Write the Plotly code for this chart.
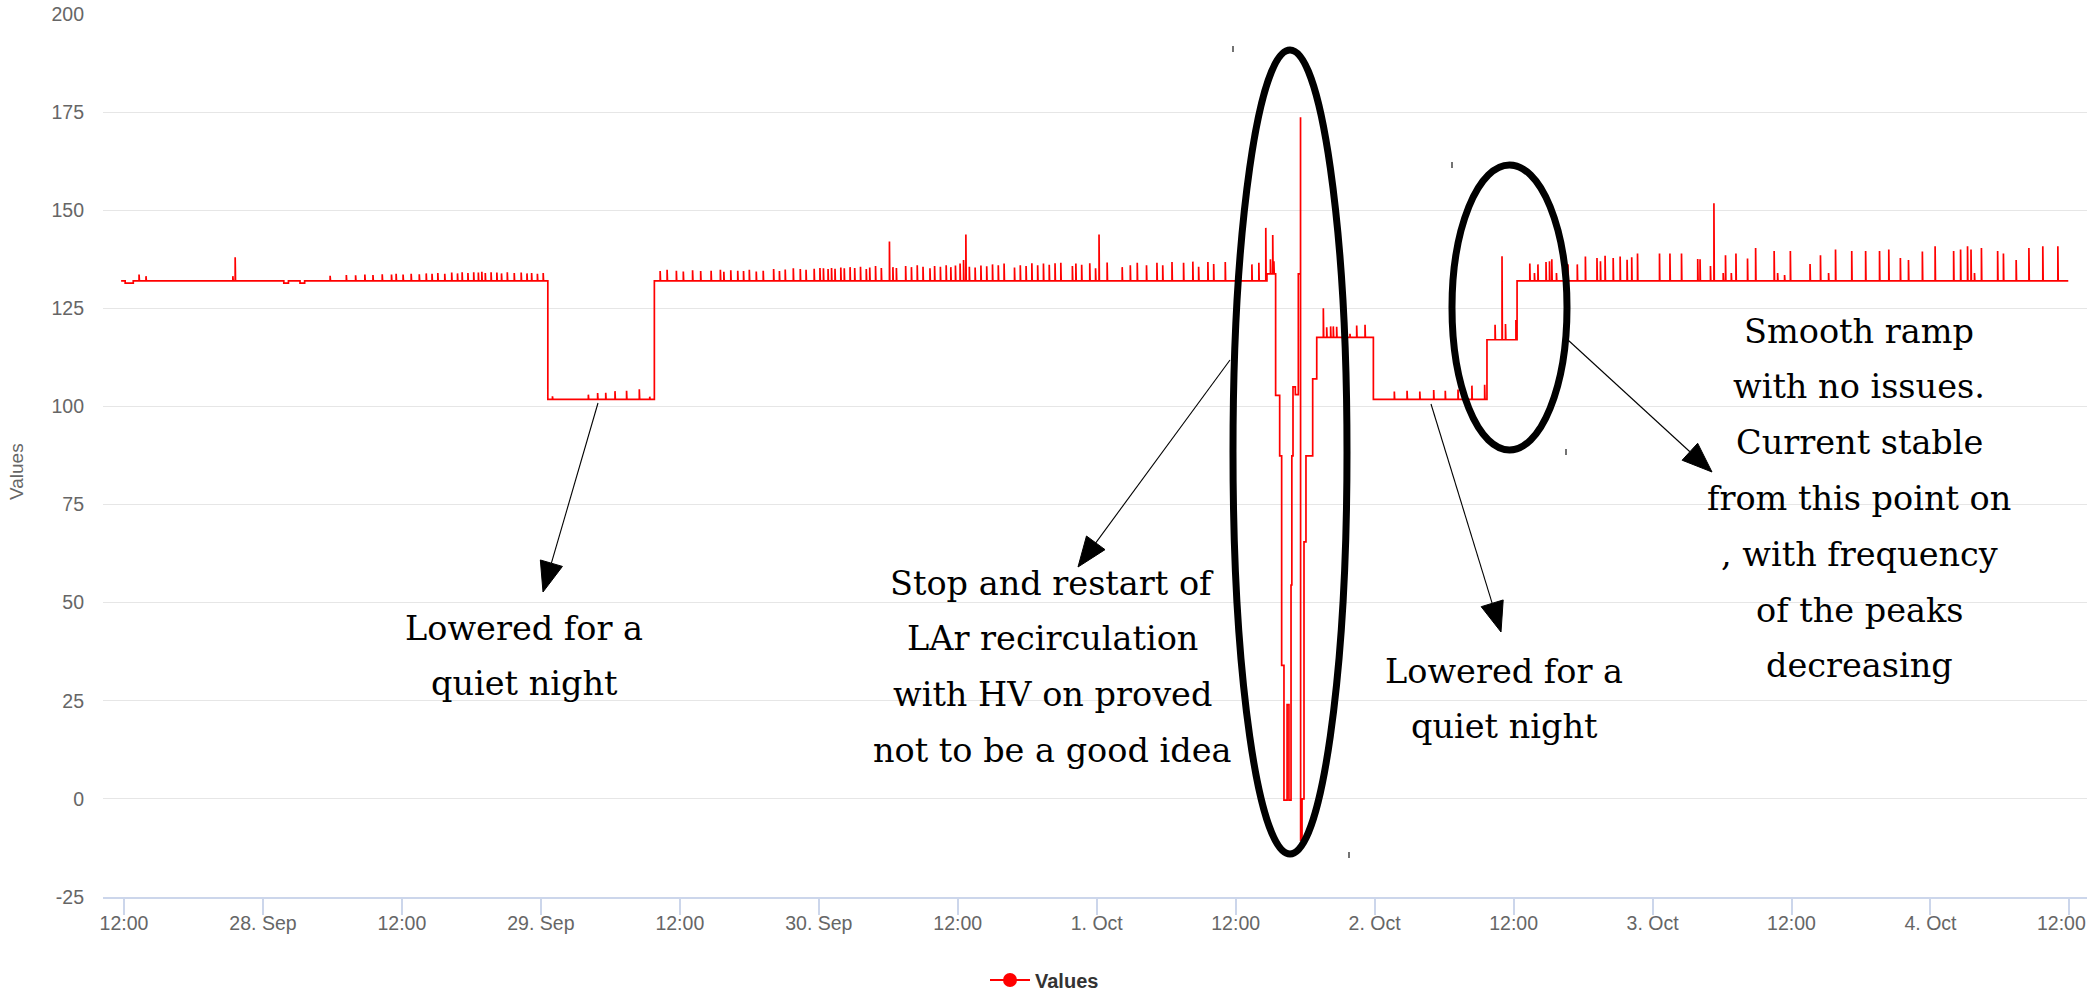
import math
import pandas as pd
import plotly.graph_objects as go

# ---------------- data ----------------
START = pd.Timestamp("2018-09-27 12:00")   # hours below are counted from here
END_HOUR = 167.9

# piecewise-constant level of the current (hours, value)
level_hours = [-0.25, 0.1, 0.8, 13.8, 14.2, 15.2, 15.6, 36.6, 45.8, 98.7, 99.45, 99.8,
               99.97, 100.17, 100.44, 100.6, 100.78, 100.85, 100.95, 101.15, 101.41,
               101.61, 101.73, 101.9, 102.07, 102.65, 103.0, 107.89, 117.7, 120.3]
level_values = [132.0, 131.4, 132.0, 131.4, 132.0, 131.4, 132.0, 101.8, 132.0, 133.8, 102.8, 87.4,
                34.0, -0.3, 24.0, -0.3, 54.5, 87.4, 105.0, 103.0, 133.8,
                -10.5, 0.0, 65.5, 87.4, 107.0, 117.6, 101.8, 117.0, 132.0]

# short spikes on top of the level (hours, peak value)
spike_hours = [
    1.3, 1.9, 9.4, 9.6,
    17.8, 19.2, 20.0, 20.8, 21.5, 22.3, 23.1, 23.5, 24.1, 24.8, 25.5, 26.1, 26.6, 27.1, 27.7,
    28.3, 28.8, 29.2, 29.7, 30.2, 30.6, 30.9, 31.2, 31.7, 32.2, 32.6, 33.1, 33.7, 34.3, 34.8,
    35.2, 35.7, 36.2,
    37.0, 40.1, 40.9, 41.6, 42.4, 43.4, 44.5, 45.4,
    46.3, 46.9, 47.7, 48.3, 49.1, 49.8, 50.7, 51.5, 51.8, 52.4, 53.0, 53.5, 54.0, 54.6, 55.2,
    56.1, 56.6, 57.1, 57.8, 58.4, 58.9, 59.6, 60.1, 60.4, 60.8, 61.1, 61.4, 61.9, 62.2, 62.7,
    63.1, 63.6, 64.1, 64.4, 64.9, 65.4, 66.1, 66.4, 66.7, 67.5, 68.0, 68.5, 69.0, 69.6, 70.0,
    70.5, 71.0, 71.4, 71.8, 72.2, 72.5, 72.7, 73.0, 73.5, 74.0, 74.5, 75.0, 75.5, 76.0, 76.9,
    77.4, 77.9, 78.4, 78.9, 79.4, 79.9, 80.4, 80.9, 81.9, 82.2, 82.7, 83.4, 83.9, 84.2, 84.9,
    86.2, 86.9, 87.5, 88.3, 89.2, 89.7, 90.5, 91.5, 92.3, 92.8, 93.6, 94.1, 95.1, 97.4, 98.0,
    98.6, 99.0, 99.2, 99.3,
    101.6,
    103.57, 103.86, 104.2, 104.43, 104.72, 105.87, 106.45, 107.17,
    109.7, 110.8, 111.9, 113.1, 114.1, 115.2, 116.4, 117.5,
    118.4, 119.0, 119.3, 120.2,
    121.4, 121.8, 122.1, 122.8, 123.1, 123.3, 123.7, 124.7, 125.5, 126.2, 127.2, 127.5, 127.9,
    128.6, 129.2, 129.8, 130.2, 130.7, 132.6, 133.5, 134.5, 135.9, 136.1, 137.0, 137.3, 138.1,
    138.3, 138.8, 139.2, 140.2, 140.9, 142.5, 142.8, 143.4, 143.9, 145.6, 146.5, 147.2, 147.8,
    149.2, 150.4, 151.6, 152.4, 153.4, 154.1, 155.3, 156.4, 158.0, 158.6, 159.2, 159.5, 159.8,
    160.4, 161.8, 162.3, 163.4, 164.5, 165.7, 167.0,
]
spike_values = [
    133.6, 133.2, 133.2, 138.0,
    133.3, 133.5, 133.4, 133.6, 133.5, 133.7, 133.6, 133.8, 133.6, 133.8, 133.7, 133.9, 133.8, 134.0, 133.8,
    134.1, 133.9, 134.2, 134.0, 134.2, 134.1, 134.3, 134.0, 134.2, 134.1, 133.9, 134.2, 134.0, 134.1, 133.9,
    134.0, 133.8, 134.0,
    102.6, 103.0, 103.4, 103.5, 103.9, 104.0, 104.4, 102.5,
    134.5, 134.8, 134.6, 134.4, 134.7, 134.5, 134.6, 134.8, 134.3, 134.7, 134.6, 134.5, 134.8, 134.4, 134.6,
    135.0, 134.5, 134.9, 135.2, 135.0, 134.8, 135.1, 135.3, 135.2, 135.0, 135.3, 135.1, 135.4, 135.2, 135.5,
    135.3, 135.6, 135.0, 135.4, 135.8, 135.3, 142.0, 135.5, 135.3, 135.8, 135.5, 136.0, 135.6, 135.2, 135.8,
    135.6, 136.0, 135.5, 135.9, 136.4, 137.3, 143.8, 135.6, 135.4, 135.9, 135.7, 136.2, 136.0, 136.4, 135.4,
    136.0, 135.8, 136.5, 136.0, 136.4, 136.1, 136.5, 136.6, 135.8, 136.4, 136.1, 136.5, 135.2, 143.8, 136.7,
    135.5, 136.0, 136.6, 136.0, 136.6, 136.0, 136.8, 136.6, 136.9, 135.6, 136.8, 136.3, 136.8, 136.2, 136.6,
    145.5, 137.5, 143.7, 137.0,
    173.7,
    125.0, 120.2, 120.4, 120.4, 120.3, 118.5, 120.6, 120.8,
    103.8, 104.0, 103.8, 104.2, 104.0, 104.3, 105.3, 105.5,
    120.8, 138.3, 121.0, 122.0,
    136.4, 134.0, 136.2, 136.8, 137.0, 137.5, 134.0, 136.2, 136.2, 138.2, 137.8, 137.0, 138.4,
    137.8, 138.2, 137.4, 138.0, 139.0, 139.0, 139.0, 139.0, 137.6, 137.5, 135.8, 151.8, 134.0,
    138.5, 134.0, 139.0, 137.7, 140.4, 139.6, 134.0, 133.5, 139.6, 136.3, 138.5, 134.0, 140.0,
    139.6, 139.6, 139.6, 140.0, 137.8, 137.3, 139.5, 140.8, 139.6, 140.0, 140.8, 140.0, 134.0,
    140.4, 139.6, 139.0, 137.3, 140.4, 140.8, 140.8,
]

tick_hours = [12 * k for k in range(15)]
tick_labels = ["12:00", "28. Sep", "12:00", "29. Sep", "12:00", "30. Sep", "12:00", "1. Oct",
               "12:00", "2. Oct", "12:00", "3. Oct", "12:00", "4. Oct", "12:00"]
y_ticks = [-25, 0, 25, 50, 75, 100, 125, 150, 175, 200]
y_tick_labels = ["-25", "0", "25", "50", "75", "100", "125", "150", "175", "200"]

notes = [
    (524, ["Lowered for a", "quiet night"], 628),
    (1052, ["Stop and restart of", "LAr recirculation", "with HV on proved", "not to be a good idea"], 583),
    (1504, ["Lowered for a", "quiet night"], 671),
    (1859, ["Smooth ramp", "with no issues.", "Current stable", "from this point on",
            ", with frequency", "of the peaks", "decreasing"], 331),
]

# ---------------- build the line from levels + spikes ----------------
events = [(h, 0, v) for h, v in zip(level_hours, level_values)]
events += [(h, 1, v) for h, v in zip(spike_hours, spike_values)]
events.sort(key=lambda e: (e[0], e[1]))
xs, ys = [], []
cur = None
for h, kind, v in events:
    if kind == 0:
        if cur is not None:
            xs.append(h); ys.append(cur)
        xs.append(h); ys.append(v)
        cur = v
    else:
        xs += [h, h, h + 0.03]
        ys += [cur, v, cur]
xs.append(END_HOUR); ys.append(cur)
times = START + pd.to_timedelta(xs, unit="h")

# ---------------- figure geometry ----------------
W, H = 2090, 991
L, R, T, B = 103, 3, 14, 94
PW, PH = W - L - R, H - T - B


def px(x, y):
    return (x - L) / PW, (H - B - y) / PH


fig = go.Figure()
fig.add_trace(go.Scatter(x=times, y=ys, mode="lines", line=dict(color="rgb(255,0,0)", width=1.7),
                         showlegend=False, hoverinfo="skip"))
fig.add_trace(go.Scatter(x=[None], y=[None], mode="lines+markers", name="<b>Values</b>",
                         line=dict(color="rgb(255,0,0)", width=2),
                         marker=dict(color="rgb(255,0,0)", size=14, symbol="circle")))

x0 = START + pd.Timedelta(hours=(L - 124) / 11.58)
x1 = START + pd.Timedelta(hours=(W - R - 124) / 11.58)

# the last label is justified inside the chart (as the original does), drawn separately
shown_tick_labels = tick_labels[:-1] + [""]

fig.update_layout(
    width=W, height=H, autosize=False,
    margin=dict(l=L, r=R, t=T, b=B, pad=0, autoexpand=False),
    paper_bgcolor="white", plot_bgcolor="white",
    font=dict(family="Liberation Sans, Arial, sans-serif", size=19, color="#666666"),
    showlegend=True,
    legend=dict(orientation="h", x=px(985, 0)[0], xanchor="left", y=px(0, 980)[1], yanchor="middle",
                font=dict(size=20, color="#333333"), itemwidth=40),
    xaxis=dict(type="date", range=[x0, x1], automargin=False,
               tickvals=[START + pd.Timedelta(hours=h) for h in tick_hours], ticktext=shown_tick_labels,
               showgrid=False, zeroline=False, showline=True, linecolor="#ccd6eb", linewidth=1.5,
               ticks="outside", ticklen=16, tickwidth=1.5, tickcolor="#ccd6eb",
               ticklabelstandoff=-8,
               tickfont=dict(size=19.5, color="#666666")),
    yaxis=dict(range=[-25, 200], tickvals=y_ticks, ticktext=y_tick_labels, automargin=False,
               showgrid=True, gridcolor="#e6e6e6", gridwidth=1.3,
               zeroline=False, showline=False, ticks="", ticklabelstandoff=18,
               tickfont=dict(size=19.5, color="#666666")),
)

anns = []
# y axis title
xt, yt = px(17, 472)
anns.append(dict(x=xt, y=yt, xref="paper", yref="paper", text="Values", textangle=-90, showarrow=False,
                 font=dict(size=19, color="#666666"), xanchor="center", yanchor="middle"))
# last x label, justified to the chart edge
lx, ly = px(2088, 923)
anns.append(dict(x=lx, y=ly, xref="paper", yref="paper", text=tick_labels[-1], showarrow=False,
                 font=dict(size=19.5, color="#666666"), xanchor="right", yanchor="middle"))
# annotation texts (one annotation per line)
for cx, lines, y_first in notes:
    for i, line in enumerate(lines):
        ax_, ay_ = px(cx, y_first + 55.8 * i)
        anns.append(dict(x=ax_, y=ay_, xref="paper", yref="paper", text=line, showarrow=False,
                         font=dict(family="DejaVu Serif, serif", size=33.5, color="black"),
                         xanchor="center", yanchor="middle"))
fig.update_layout(annotations=anns)

shapes = []
# ellipses
for (ex0, ey0, ex1, ey1) in [(1233, 50, 1347, 854), (1452, 165, 1567, 450)]:
    a0, b0 = px(ex0, ey1)
    a1, b1 = px(ex1, ey0)
    shapes.append(dict(type="circle", xref="paper", yref="paper", x0=a0, y0=b0, x1=a1, y1=b1,
                       line=dict(color="black", width=7)))
# arrows: (tail, tip)
arrows = [((598, 403), (543, 592)), ((1230, 360), (1078, 567)),
          ((1431, 404), (1501, 632)), ((1568, 340), (1712, 472))]
HL, HW = 30, 23
for (tx, ty), (hx, hy) in arrows:
    dx, dy = hx - tx, hy - ty
    d = math.hypot(dx, dy)
    ux, uy = dx / d, dy / d
    bx, by = hx - ux * HL, hy - uy * HL
    c1 = (bx - uy * HW / 2, by + ux * HW / 2)
    c2 = (bx + uy * HW / 2, by - ux * HW / 2)
    p0, q0 = px(tx, ty)
    p1, q1 = px(bx, by)
    shapes.append(dict(type="line", xref="paper", yref="paper", x0=p0, y0=q0, x1=p1, y1=q1,
                       line=dict(color="black", width=1.1)))
    pts = [px(hx, hy), px(*c1), px(*c2)]
    path = "M {} {} L {} {} L {} {} Z".format(pts[0][0], pts[0][1], pts[1][0], pts[1][1], pts[2][0], pts[2][1])
    shapes.append(dict(type="path", xref="paper", yref="paper", path=path,
                       fillcolor="black", line=dict(color="black", width=1)))
# small stray marks
for (mx, my) in [(1233, 46), (1452, 162), (1566, 449), (1349, 852)]:
    a0, b0 = px(mx, my)
    a1, b1 = px(mx, my + 6)
    shapes.append(dict(type="line", xref="paper", yref="paper", x0=a0, y0=b0, x1=a1, y1=b1,
                       line=dict(color="#444444", width=1.5)))
fig.update_layout(shapes=shapes)

fig.write_html("out.html", config={"displayModeBar": False},
               post_script="document.body.style.margin='0px';")
